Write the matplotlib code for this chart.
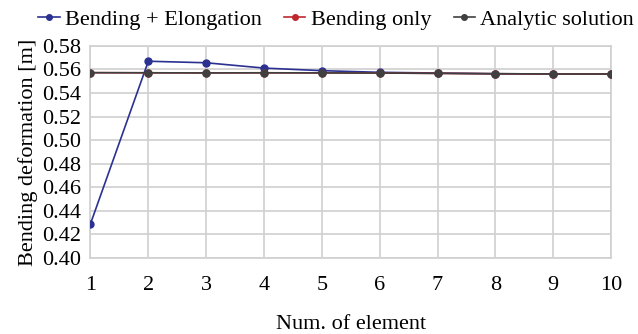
import matplotlib.pyplot as plt

plt.rcParams['font.family'] = ['Liberation Serif', 'DejaVu Serif']

# data
elements = [1, 2, 3, 4, 5, 6, 7, 8, 9, 10]
bending_elong = [0.429, 0.567, 0.5657, 0.5612, 0.5590, 0.5576, 0.5570, 0.5564, 0.5562, 0.5562]
bending_only = [0.5573, 0.5572, 0.5571, 0.5572, 0.5571, 0.5570, 0.5567, 0.5564, 0.5562, 0.5562]
analytic = [0.5573, 0.5572, 0.5571, 0.5572, 0.5571, 0.5570, 0.5567, 0.5564, 0.5562, 0.5562]

yticks = [0.40, 0.42, 0.44, 0.46, 0.48, 0.50, 0.52, 0.54, 0.56, 0.58]

FS = 16

fig = plt.figure(figsize=(6.38, 3.34), dpi=100)
ax = fig.add_axes([0.1418, 0.2275, 0.816, 0.635])

ax.plot(elements, bending_elong, color='#2b3191', lw=1.2, marker='o', ms=5,
        label='Bending + Elongation', zorder=3)
ax.plot(elements, bending_only, color='#c0272d', lw=1.2, marker='o', ms=5,
        label='Bending only', zorder=4)
ax.plot(elements, analytic, color='#404040', lw=1.2, marker='o', ms=5,
        label='Analytic solution', zorder=5)

ax.set_xlim(1, 10)
ax.set_ylim(0.40, 0.58)
ax.set_xticks(elements)
ax.set_yticks(yticks)
ax.set_yticklabels([f'{v:.2f}' for v in yticks])
ax.grid(True, color='#d0d0d0', lw=1.2)
ax.set_axisbelow(True)
for s in ax.spines.values():
    s.set_color('#d0d0d0')
    s.set_linewidth(1.2)
ax.tick_params(length=0, labelsize=FS, pad=7)
ax.tick_params(axis='x', pad=13)

ax.set_xlabel('Num. of element', fontsize=FS, labelpad=14)
ax.set_ylabel('Bending deformation [m]', fontsize=FS, labelpad=3)

ax.legend(loc='center', bbox_to_anchor=(0.527, 0.942), bbox_transform=fig.transFigure,
          ncol=3, frameon=False, fontsize=FS, handlelength=0.95, handletextpad=0.25,
          columnspacing=1.0, markerscale=0.8, borderaxespad=0, borderpad=0)

fig.savefig('out.png', dpi=100)
